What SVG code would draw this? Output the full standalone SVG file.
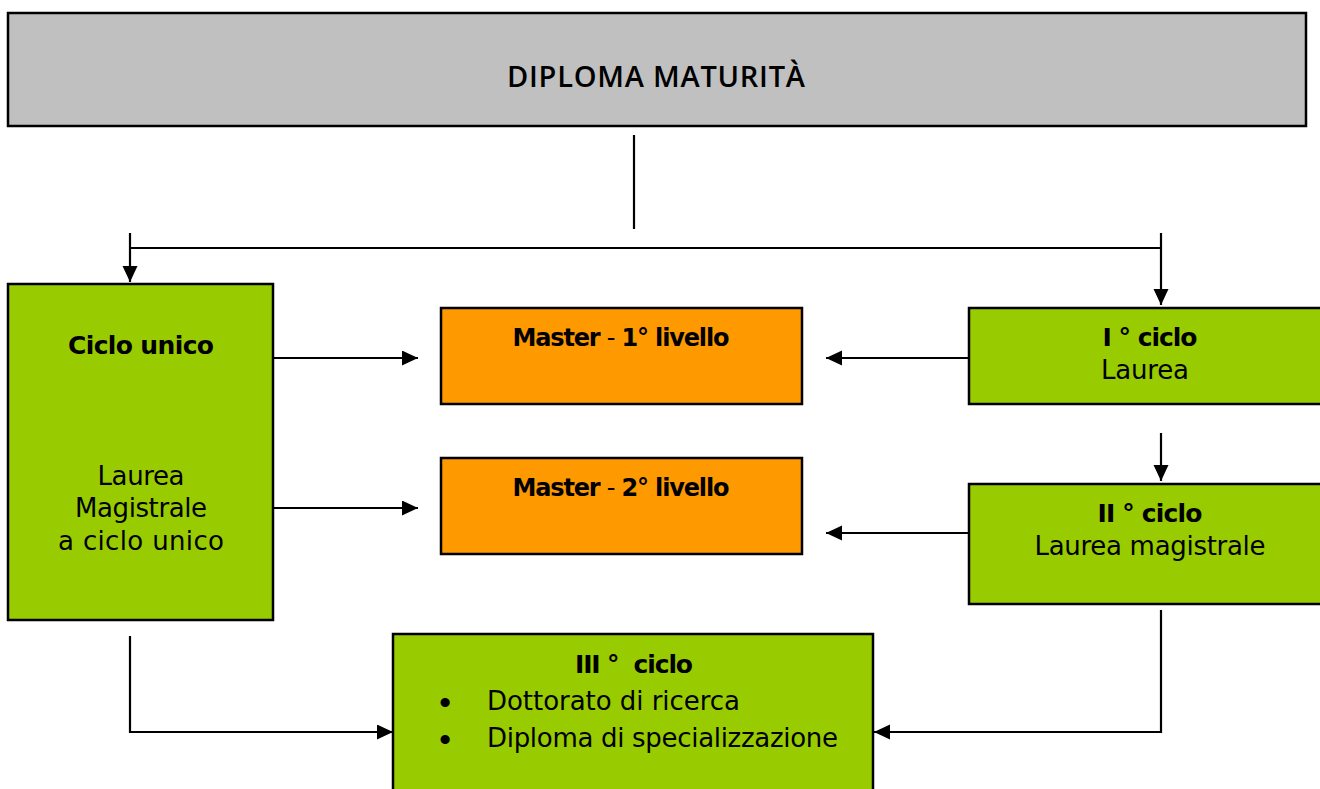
<svg xmlns="http://www.w3.org/2000/svg" width="1320" height="789" viewBox="0 0 1320 789">
<style>
.box{stroke:#000;stroke-width:2.5}
.gray{fill:#C0C0C0}
.green{fill:#99CC00}
.orange{fill:#FF9900}
.t{font-family:"DejaVu Sans",sans-serif;font-size:26px;fill:#000}
.b{font-family:"DejaVu Sans",sans-serif;font-size:25px;font-weight:bold;fill:#000}
.m{font-family:"DejaVu Sans",sans-serif;font-size:24px;font-weight:bold;fill:#000}
.title{font-family:"Open Sans",sans-serif;font-size:29px;font-weight:600;fill:#000}
.bul{font-family:"Liberation Sans",sans-serif;font-size:32px;font-weight:bold;fill:#000;text-anchor:middle}
.c{text-anchor:middle}
.ln{fill:none;stroke:#000;stroke-width:2.2}
.arr{marker-end:url(#ah)}
</style>
<defs>
<marker id="ah" markerUnits="userSpaceOnUse" markerWidth="17" markerHeight="16" refX="16" refY="7.5" orient="auto">
<path d="M0,0 L16,7.5 L0,15 z" fill="#000"/>
</marker>
</defs>
<g id="connectors">
<line class="ln" x1="634" y1="135" x2="634" y2="229"/>
<line class="ln" x1="130" y1="248" x2="1162" y2="248"/>
<line class="ln arr" x1="130" y1="233" x2="130" y2="282"/>
<line class="ln arr" x1="1161" y1="233" x2="1161" y2="305"/>
<line class="ln arr" x1="273" y1="358" x2="418" y2="358"/>
<line class="ln arr" x1="273" y1="508" x2="418" y2="508"/>
<line class="ln arr" x1="969" y1="358" x2="826" y2="358"/>
<line class="ln arr" x1="969" y1="533" x2="826" y2="533"/>
<line class="ln arr" x1="1161" y1="433" x2="1161" y2="481"/>
<polyline class="ln arr" points="1161,610 1161,732 874,732"/>
<polyline class="ln arr" points="130,636 130,732 393,732"/>
</g>
<g id="diploma">
<rect class="box gray" x="8" y="13" width="1298" height="113"/>
<text class="title c" x="656" y="87" textLength="298">DIPLOMA MATURITÀ</text>
</g>
<g id="ciclo-unico">
<rect class="box green" x="8" y="284" width="265" height="336"/>
<text class="b c" x="141" y="354" textLength="146">Ciclo unico</text>
<text class="t c" x="141" y="485" textLength="87">Laurea</text>
<text class="t c" x="141" y="517" textLength="132">Magistrale</text>
<text class="t c" x="141" y="550" textLength="166">a ciclo unico</text>
</g>
<g id="master1">
<rect class="box orange" x="441" y="308" width="361" height="96"/>
<text class="m c" x="621" y="346" textLength="217">Master <tspan font-weight="normal">-</tspan> 1° livello</text>
</g>
<g id="master2">
<rect class="box orange" x="441" y="458" width="361" height="96"/>
<text class="m c" x="621" y="496" textLength="217">Master <tspan font-weight="normal">-</tspan> 2° livello</text>
</g>
<g id="ciclo1">
<rect class="box green" x="969" y="308" width="360" height="96"/>
<text class="b c" x="1150" y="346" textLength="95">I ° ciclo</text>
<text class="t c" x="1145" y="379" textLength="88">Laurea</text>
</g>
<g id="ciclo2">
<rect class="box green" x="969" y="484" width="360" height="120"/>
<text class="b c" x="1150" y="522" textLength="105">II ° ciclo</text>
<text class="t c" x="1150" y="555" textLength="231">Laurea magistrale</text>
</g>
<g id="ciclo3">
<rect class="box green" x="393" y="634" width="480" height="170"/>
<text class="b c" x="634" y="673" xml:space="preserve" textLength="118">III °  ciclo</text>
<text class="bul" x="445" y="713">•</text>
<text class="t" x="487" y="710" textLength="253">Dottorato di ricerca</text>
<text class="bul" x="445" y="750">•</text>
<text class="t" x="487" y="747" textLength="351">Diploma di specializzazione</text>
</g>
</svg>
